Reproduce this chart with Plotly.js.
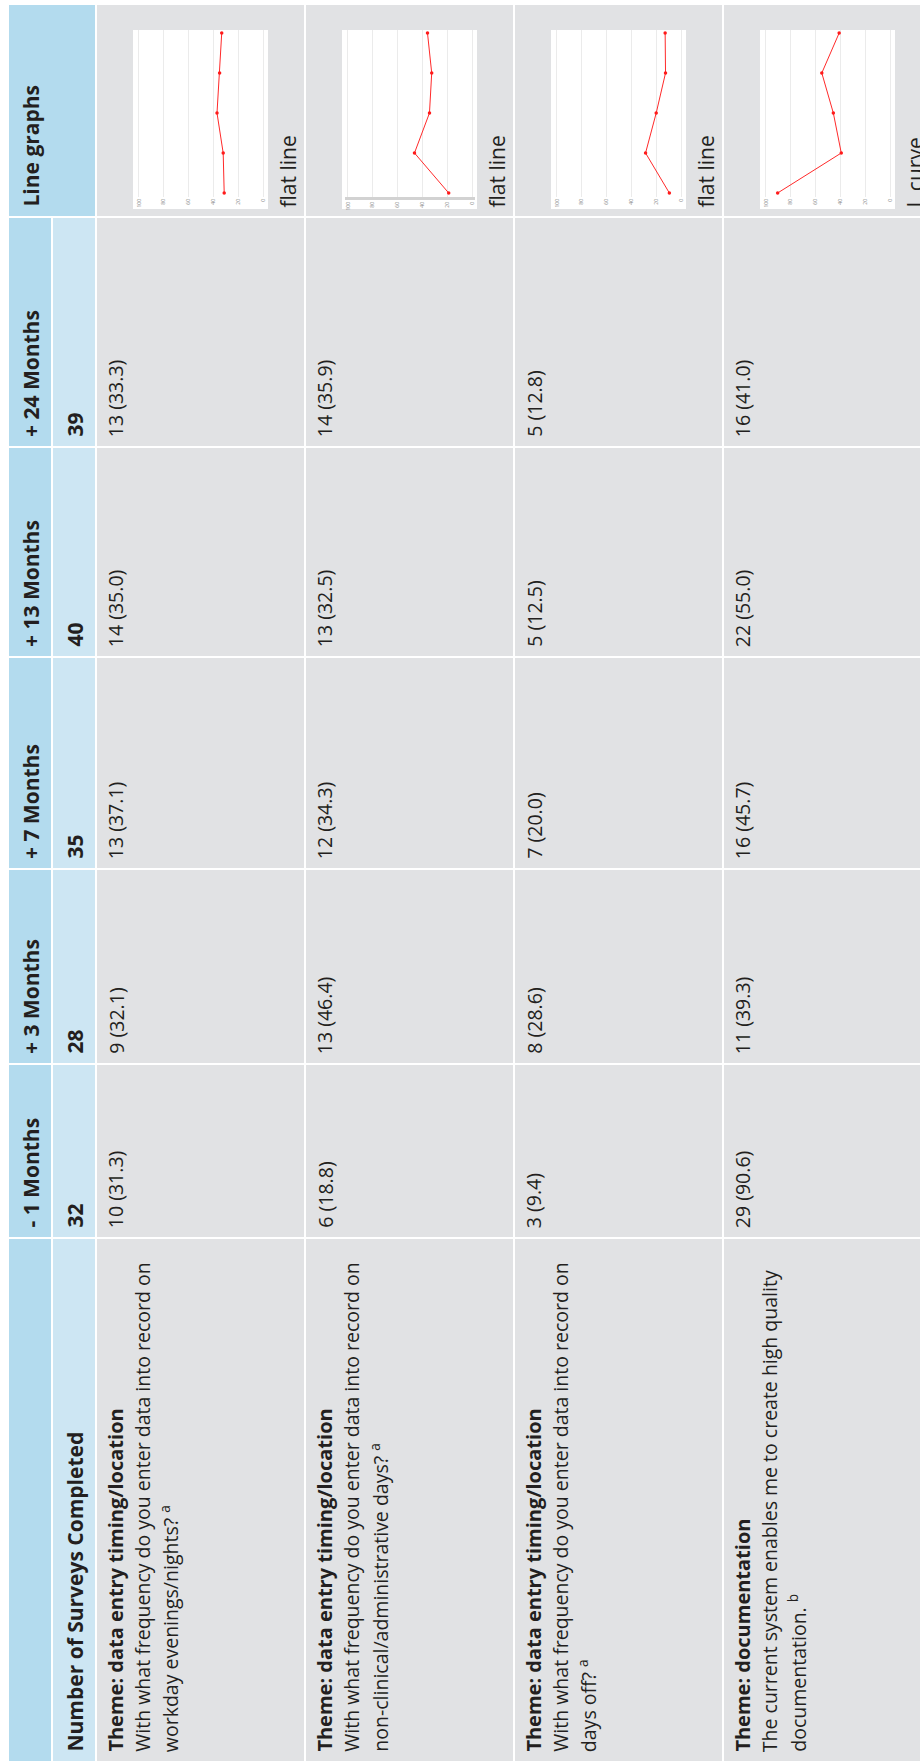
<!DOCTYPE html>
<html><head><meta charset="utf-8">
<script src="https://cdn.plot.ly/plotly-3.0.1.min.js"></script>
<style>html,body{margin:0;padding:0;background:#fff}</style>
</head><body><div id="chart" style="width:920px;height:1763px"></div>
<script>
// ---------- data ----------
const months = ['- 1 Months', '+ 3 Months', '+ 7 Months', '+ 13 Months', '+ 24 Months'];
const surveysCompleted = [32, 28, 35, 40, 39];
const surveysLabel = 'Number of Surveys Completed';
const lineGraphsLabel = 'Line graphs';
const themes = [
  'Theme: data entry timing/location',
  'Theme: data entry timing/location',
  'Theme: data entry timing/location',
  'Theme: documentation'
];
const questionLine1 = [
  'With what frequency do you enter data into record on',
  'With what frequency do you enter data into record on',
  'With what frequency do you enter data into record on',
  'The current system enables me to create high quality'
];
const questionLine2 = ['workday evenings/nights?', 'non-clinical/administrative days?', 'days off?', 'documentation.'];
const footnotes = ['a', 'a', 'a', 'b'];
const counts1 = [10, 9, 13, 14, 13];
const counts2 = [6, 13, 12, 13, 14];
const counts3 = [3, 8, 7, 5, 5];
const counts4 = [29, 11, 16, 22, 16];
const pct1 = [31.3, 32.1, 37.1, 35.0, 33.3];
const pct2 = [18.8, 46.4, 34.3, 32.5, 35.9];
const pct3 = [9.4, 28.6, 20.0, 12.5, 12.8];
const pct4 = [90.6, 39.3, 45.7, 55.0, 41.0];
const shapeLabels = ['flat line', 'flat line', 'flat line', 'L curve'];
const axisTicks = [100, 80, 60, 40, 20, 0];

const counts = [counts1, counts2, counts3, counts4];
const pcts = [pct1, pct2, pct3, pct4];

// ---------- geometry (pixels of the 920x1763 page) ----------
const W = 920, H = 1763;
const fx = x => x / W, fy = y => 1 - y / H;
const darkBand = [9, 51], lightBand = [53, 95];
const rowBands = [[97, 304], [306, 513], [515, 722], [724, 940]];
const monthBands = [[1065, 1237], [870, 1063], [658, 868], [448, 656], [218, 446]]; // same order as months
const lgBand = [5, 216], labelBand = [1239, 1761];
const DARK = '#b3dbee', LIGHT = '#cde6f3', GRAY = '#e1e2e4', TXT = '#231f20';
const FONT = 'Open Sans';
const ASC = 1.069; // font ascent (em)

const shapes = [];
function rect(x0, x1, y0, y1, color) {
  shapes.push({type: 'rect', xref: 'paper', yref: 'paper', layer: 'below',
    x0: fx(x0), x1: fx(x1), y0: fy(y1), y1: fy(y0),
    fillcolor: color, line: {width: 0}});
}
const annotations = [];
// rotated text whose baseline sits at pixel column `base`, starting at pixel row `yStart` going upward
function rot(text, base, yStart, size) {
  annotations.push({xref: 'paper', yref: 'paper', x: fx(base - ASC * size), y: fy(yStart),
    xanchor: 'left', yanchor: 'bottom', text: text, textangle: -90, showarrow: false,
    align: 'left', borderpad: 0,
    font: {family: FONT, size: size, color: TXT}});
}

const HB = 21;   // header bold size
const TB = 20;   // theme bold size
const RS = 19.5; // regular size
const LS = 26.5; // line spacing

// header columns
rect(darkBand[0], lightBand[1], lgBand[0], lgBand[1], DARK);
rot('<b>' + lineGraphsLabel + '</b>', 38, lgBand[1] - 8, HB);
months.forEach((m, i) => {
  const b = monthBands[i];
  rect(darkBand[0], darkBand[1], b[0], b[1], DARK);
  rect(lightBand[0], lightBand[1], b[0], b[1], LIGHT);
  rot('<b>' + m + '</b>', 38, b[1] - 8, HB);
  rot('<b>' + surveysCompleted[i] + '</b>', 82, b[1] - 8, HB);
});
rect(darkBand[0], darkBand[1], labelBand[0], labelBand[1], DARK);
rect(lightBand[0], lightBand[1], labelBand[0], labelBand[1], LIGHT);
rot('<b>' + surveysLabel + '</b>', 82, labelBand[1] - 8, HB);

// body rows
const data = [];
const layout = {
  width: W, height: H, margin: {l: 0, r: 0, t: 0, b: 0},
  paper_bgcolor: '#ffffff', plot_bgcolor: 'rgba(0,0,0,0)',
  showlegend: false, shapes: shapes, annotations: annotations,
  font: {family: FONT, color: TXT}
};
rowBands.forEach((rb, r) => {
  const x0 = rb[0];
  rect(x0, rb[1], lgBand[0], lgBand[1], GRAY);
  months.forEach((m, i) => rect(x0, rb[1], monthBands[i][0], monthBands[i][1], GRAY));
  rect(x0, rb[1], labelBand[0], labelBand[1], GRAY);
  // label cell
  const b1 = x0 + 25;
  rot('<b>' + themes[r] + '</b>', b1, labelBand[1] - 8, TB);
  rot(questionLine1[r], b1 + LS, labelBand[1] - 8, RS);
  rot(questionLine2[r] + ' <sup>' + footnotes[r] + '</sup>', b1 + 2 * LS, labelBand[1] - 8, RS);
  // values
  months.forEach((m, i) => {
    rot(counts[r][i] + ' (' + pcts[r][i].toFixed(1) + ')', b1, monthBands[i][1] - 8, RS);
  });
  // mini line graph
  rect(x0 + 36, x0 + 171, 30, 209, '#ffffff');
  rot(shapeLabels[r], x0 + 198, 209, 21);
  const n = r + 1;
  const xa = 'xaxis' + (n === 1 ? '' : n), ya = 'yaxis' + (n === 1 ? '' : n);
  const xr = 'x' + (n === 1 ? '' : n), yr = 'y' + (n === 1 ? '' : n);
  layout[xa] = {domain: [fx(x0 + 39), fx(x0 + 169)], range: [102.4, -2.4], anchor: yr,
    tickvals: axisTicks, ticktext: axisTicks.map(String), tickangle: -90,
    tickfont: {size: 5, color: '#8a8a8a', family: FONT}, ticks: '',
    showgrid: true, gridcolor: '#ebebeb', gridwidth: 1, zeroline: false,
    showline: r === 1, linecolor: '#d2d2d2', linewidth: 3, fixedrange: true};
  layout[ya] = {domain: [fy(197), fy(30)], type: 'category', categoryarray: months,
    range: [-0.1, 4.075], anchor: xr, showticklabels: false, showgrid: false,
    zeroline: false, showline: false, ticks: '', fixedrange: true};
  data.push({type: 'scatter', mode: 'lines+markers', x: pcts[r], y: months,
    xaxis: xr, yaxis: yr, line: {color: '#ff2a2a', width: 1},
    marker: {color: '#ff1a1a', size: 3.5}, hoverinfo: 'skip'});
});

Plotly.newPlot('chart', data, layout, {staticPlot: true, displayModeBar: false});
</script></body></html>
